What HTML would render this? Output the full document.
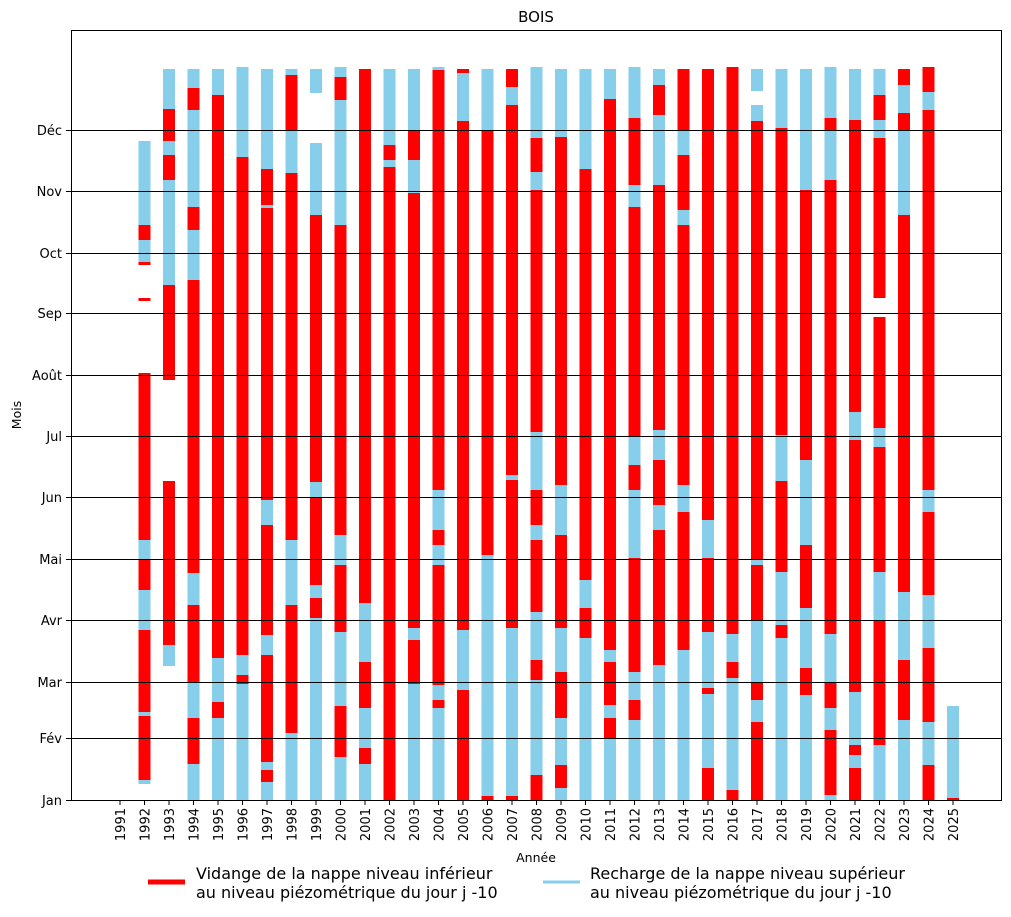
<!DOCTYPE html>
<html><head><meta charset="utf-8"><style>
body{margin:0;background:#fff;}
svg{display:block;font-family:"DejaVu Sans","Liberation Sans",sans-serif;}
</style></head><body>
<svg id="s" width="1011" height="917" xmlns="http://www.w3.org/2000/svg">
<rect x="0" y="0" width="1011" height="917" fill="#fff"/>
<g id="bars"></g>
<g id="grid" stroke="#000" stroke-width="1"></g>
<rect x="71.5" y="30.5" width="930" height="770" fill="none" stroke="#000" stroke-width="1"/>
<g id="ticks" font-size="13" fill="#000"></g>
<text x="536" y="22" font-size="15" text-anchor="middle">BOIS</text>
<text x="536" y="862" font-size="12.5" text-anchor="middle">Année</text>
<text transform="translate(21,415) rotate(-90)" font-size="12.5" text-anchor="middle">Mois</text>
<line x1="148" y1="882" x2="185" y2="882" stroke="#ff0000" stroke-width="5"/>
<text x="196" y="879" font-size="16">Vidange de la nappe niveau inférieur</text>
<text x="196" y="898" font-size="16">au niveau piézométrique du jour j -10</text>
<line x1="543" y1="882" x2="580" y2="882" stroke="#87ceeb" stroke-width="3"/>
<text x="590" y="879" font-size="16">Recharge de la nappe niveau supérieur</text>
<text x="590" y="898" font-size="16">au niveau piézométrique du jour j -10</text>
</svg>
<script>
const R='#ff0000',B='#87ceeb';
const D={
1992:[[141,225,B],[225,240,R],[240,262,B],[262,265,R],[298,301,R],[373,540,R],[540,560,B],[560,590,R],[590,630,B],[630,712,R],[712,716,B],[716,780,R],[780,784,B]],
1993:[[69,109,B],[109,141,R],[141,155,B],[155,180,R],[180,285,B],[285,380,R],[481,645,R],[645,666,B]],
1994:[[69,88,B],[88,110,R],[110,207,B],[207,230,R],[230,280,B],[280,300,R],[300,573,R],[573,605,B],[605,682,R],[682,718,B],[718,764,R],[764,800,B]],
1995:[[69,95,B],[95,658,R],[658,702,B],[702,718,R],[718,800,B]],
1996:[[67,157,B],[157,655,R],[655,675,B],[675,684,R],[684,800,B]],
1997:[[69,169,B],[169,205,R],[205,208,B],[208,500,R],[500,525,B],[525,635,R],[635,655,B],[655,762,R],[762,770,B],[770,782,R],[782,800,B]],
1998:[[69,75,B],[75,130,R],[130,173,B],[173,540,R],[540,605,B],[605,733,R],[733,800,B]],
1999:[[69,93,B],[143,215,B],[215,232,R],[232,482,R],[482,497,B],[497,585,R],[585,598,B],[598,618,R],[618,800,B]],
2000:[[67,77,B],[77,100,R],[100,225,B],[225,535,R],[535,565,B],[565,632,R],[632,706,B],[706,757,R],[757,800,B]],
2001:[[69,603,R],[603,662,B],[662,708,R],[708,748,B],[748,764,R],[764,800,B]],
2002:[[69,145,B],[145,160,R],[160,167,B],[167,800,R]],
2003:[[69,130,B],[130,160,R],[160,193,B],[193,628,R],[628,640,B],[640,684,R],[684,800,B]],
2004:[[67,70,B],[70,490,R],[490,530,B],[530,545,R],[545,565,B],[565,685,R],[685,700,B],[700,708,R],[708,800,B]],
2005:[[69,73,R],[73,121,B],[121,630,R],[630,690,B],[690,785,R],[785,800,R]],
2006:[[69,130,B],[130,555,R],[555,573,B],[573,796,B],[796,800,R]],
2007:[[69,87,R],[87,105,B],[105,475,R],[475,480,B],[480,628,R],[628,796,B],[796,800,R]],
2008:[[67,138,B],[138,172,R],[172,190,B],[190,432,R],[432,490,B],[490,525,R],[525,540,B],[540,612,R],[612,660,B],[660,680,R],[680,775,B],[775,800,R]],
2009:[[69,137,B],[137,485,R],[485,535,B],[535,628,R],[628,672,B],[672,718,R],[718,765,B],[765,788,R],[788,800,B]],
2010:[[69,169,B],[169,580,R],[580,608,B],[608,638,R],[638,800,B]],
2011:[[69,99,B],[99,650,R],[650,662,B],[662,705,R],[705,718,B],[718,738,R],[738,800,B]],
2012:[[67,118,B],[118,185,R],[185,207,B],[207,437,R],[437,465,B],[465,490,R],[490,558,B],[558,672,R],[672,700,B],[700,720,R],[720,800,B]],
2013:[[69,85,B],[85,115,R],[115,185,B],[185,430,R],[430,460,B],[460,505,R],[505,530,B],[530,665,R],[665,800,B]],
2014:[[69,130,R],[130,155,B],[155,210,R],[210,225,B],[225,485,R],[485,512,B],[512,650,R],[650,800,B]],
2015:[[69,520,R],[520,558,B],[558,632,R],[632,688,B],[688,694,R],[694,768,B],[768,800,R]],
2016:[[67,634,R],[634,662,B],[662,678,R],[678,790,B],[790,800,R]],
2017:[[69,91,B],[105,121,B],[121,560,R],[560,565,B],[565,620,R],[620,682,B],[682,700,R],[700,722,B],[722,800,R]],
2018:[[69,128,B],[128,435,R],[435,481,B],[481,572,R],[572,625,B],[625,638,R],[638,800,B]],
2019:[[69,190,B],[190,460,R],[460,545,B],[545,608,R],[608,668,B],[668,695,R],[695,800,B]],
2020:[[67,118,B],[118,130,R],[130,180,B],[180,634,R],[634,682,B],[682,708,R],[708,730,B],[730,795,R],[795,800,B]],
2021:[[69,120,B],[120,412,R],[412,440,B],[440,692,R],[692,745,B],[745,755,R],[755,768,B],[768,800,R]],
2022:[[69,95,B],[95,120,R],[120,138,B],[138,298,R],[317,428,R],[428,447,B],[447,572,R],[572,620,B],[620,745,R],[745,800,B]],
2023:[[69,85,R],[85,113,B],[113,130,R],[130,215,B],[215,592,R],[592,660,B],[660,720,R],[720,800,B]],
2024:[[67,92,R],[92,110,B],[110,235,R],[235,490,R],[490,512,B],[512,595,R],[595,648,B],[648,722,R],[722,765,B],[765,800,R]],
2025:[[706,798,B],[798,800,R]]
};
const NS='http://www.w3.org/2000/svg';
function el(t,a,p,txt){const e=document.createElementNS(NS,t);for(const k in a)e.setAttribute(k,a[k]);if(txt)e.textContent=txt;p.appendChild(e);return e;}
const bars=document.getElementById('bars'),grid=document.getElementById('grid'),ticks=document.getElementById('ticks');
for(const y in D){const cx=120+(y-1991)*24.5;for(const [a,b,c] of D[y])el('rect',{x:cx-6,y:a,width:12,height:b-a,fill:c},bars);}
const months=[['Jan',800],['Fév',738],['Mar',682],['Avr',620],['Mai',559],['Jun',497],['Jul',436],['Août',375],['Sep',313],['Oct',253],['Nov',191],['Déc',130]];
for(const [m,y] of months){if(y<800)el('line',{x1:71,x2:1001,y1:y+0.5,y2:y+0.5},grid);el('line',{x1:66,x2:71,y1:y+0.5,y2:y+0.5,stroke:'#000'},ticks);el('text',{x:62,y:y+5,'text-anchor':'end'},ticks,m);}
for(let y=1991;y<=2025;y++){const cx=120+(y-1991)*24.5;el('line',{x1:cx,x2:cx,y1:800,y2:805,stroke:'#000'},ticks);el('text',{transform:`translate(${cx+5},808) rotate(-90)`,'text-anchor':'end'},ticks,String(y));}
</script>
</body></html>
